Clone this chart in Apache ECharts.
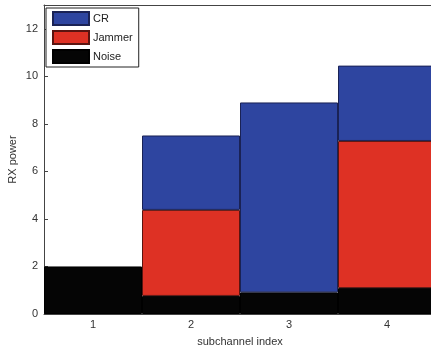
<!DOCTYPE html>
<html><head><meta charset="utf-8">
<script src="https://cdn.jsdelivr.net/npm/echarts@6/dist/echarts.min.js"></script>
<style>html,body{margin:0;padding:0;background:#fff}#c{width:431px;height:347px}</style>
</head><body><div id="c"></div>
<script>
const categories = ['1','2','3','4'];
const noise = [2.0, 0.76, 0.91, 1.09];
const jammer = [0, 3.62, 0, 6.19];
const cr = [0, 3.13, 7.99, 3.17];
const yTicks = [0,2,4,6,8,10,12];

const chart = echarts.init(document.getElementById('c'));
const font = 'Liberation Sans, Arial, sans-serif';
function bar(name, data, color, border){
  return {name, type:'bar', stack:'s', data: data.map(v => v === 0 ? '-' : v), barWidth:'100%', barCategoryGap:'0%',
    itemStyle:{color, borderColor:border, borderWidth:1}, emphasis:{disabled:true}};
}
chart.setOption({
  animation:false,
  grid:{left:44, right:-5, top:5, bottom:33, containLabel:false, outerBoundsMode:'none'},
  legend:{orient:'vertical', left:46, top:8, itemWidth:36, itemHeight:13, itemGap:4,
    padding:[3,6,3,6], backgroundColor:'#fff', borderColor:'#222', borderWidth:1,
    borderRadius:0, data:['CR','Jammer','Noise'],
    textStyle:{fontFamily:font, fontSize:11, color:'#222', padding:[0,0,0,-1]},
    icon:'rect'},
  xAxis:[{type:'category', data:categories, name:'subchannel index', nameLocation:'middle', nameGap:22,
    nameMoveOverlap:false,
    nameTextStyle:{fontFamily:font, fontSize:11, color:'#333'},
    axisLine:{lineStyle:{color:'#444'}}, axisTick:{inside:true, alignWithLabel:true, length:4, lineStyle:{color:'#444'}},
    axisLabel:{fontFamily:font, fontSize:11, color:'#333', margin:5}},
   {type:'category', data:categories, position:'top', axisLine:{lineStyle:{color:'#444'}},
    axisTick:{inside:true, alignWithLabel:true, length:4, lineStyle:{color:'#444'}}, axisLabel:{show:false}}],
  yAxis:{type:'value', min:0, max:13, interval:2, name:'RX power', nameLocation:'middle', nameGap:26,
    nameMoveOverlap:false,
    nameTextStyle:{fontFamily:font, fontSize:11, color:'#333'},
    axisLine:{show:true, lineStyle:{color:'#444'}}, axisTick:{show:true, inside:true, length:4, lineStyle:{color:'#444'}},
    splitLine:{show:false},
    axisLabel:{fontFamily:font, fontSize:11, color:'#333', margin:6,
      formatter:v => yTicks.includes(v) ? String(v) : ''}},
  series:[
    bar('Noise', noise, '#050505', '#000'),
    bar('Jammer', jammer, '#de3124', '#5a1410'),
    bar('CR', cr, '#2e45a0', '#1a2255')
  ]
});
</script></body></html>
